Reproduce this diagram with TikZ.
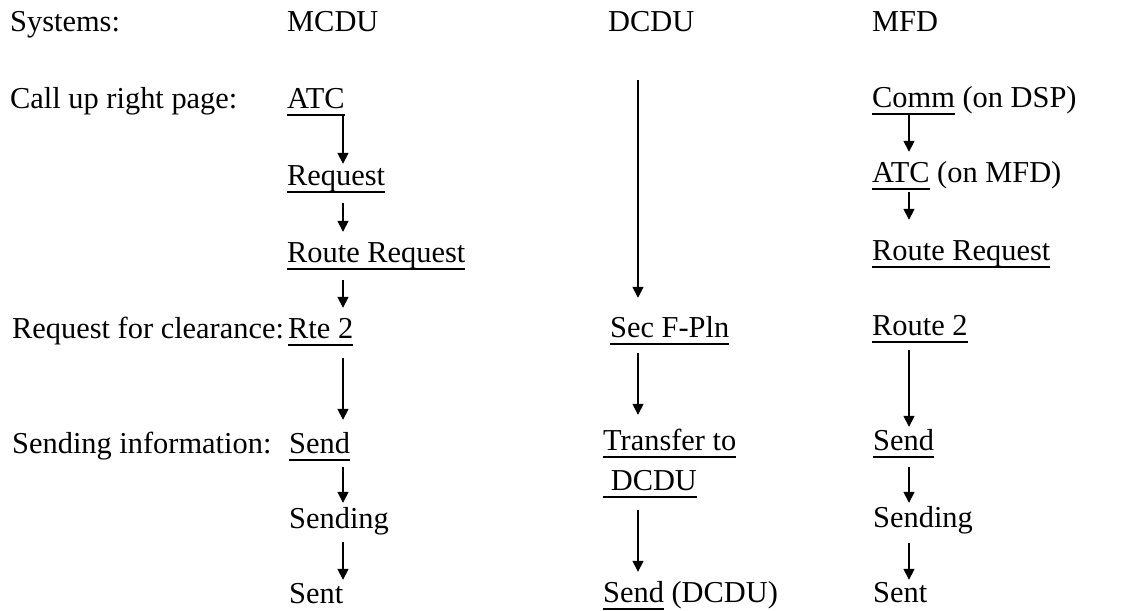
\documentclass[tikz,border=0pt]{standalone}
\usepackage{fontspec}
\setmainfont{Liberation Serif}
\usetikzlibrary{arrows.meta}
\newcommand{\myul}[1]{\setbox0=\hbox{#1}\rlap{\rule[-7.75pt]{\wd0}{1.5pt}}\box0\relax}
\tikzset{
  lbl/.style={anchor=base west, inner sep=0pt, font=\fontsize{30.4}{36}\selectfont, text height=21pt, text depth=7pt},
  arr/.style={-{Triangle[length=11pt,width=11pt]}, line width=1.5pt}
}
\begin{document}
\begin{tikzpicture}[x=1pt,y=-1pt]
\useasboundingbox[fill=white] (0,0) rectangle (1131,610);
% headers and row labels
\node[lbl] (hsys) at (10,32) {Systems:};
\node[lbl] (hmcdu) at (287,32) {MCDU};
\node[lbl] (hdcdu) at (608,32) {DCDU};
\node[lbl] (hmfd) at (872,32) {MFD};
\node[lbl] (lcall) at (10,108) {Call up right page:};
\node[lbl] (lreq) at (12,338) {Request for clearance:};
\node[lbl] (lsend) at (12,453) {Sending information:};
% MCDU
\node[lbl] (atc) at (287,108) {\myul{ATC}};
\node[lbl] (req) at (287,185) {\myul{Request}};
\node[lbl] (rreq) at (287,262) {\myul{Route Request}};
\node[lbl] (rte) at (288,338) {\myul{Rte 2}};
\node[lbl] (send) at (289,453) {\myul{Send}};
\node[lbl] (sending) at (289,528) {Sending};
\node[lbl] (sent) at (289,603) {Sent};
% DCDU
\coordinate (dtop) at (638,80);
\node[lbl] (secf) at (610,337) {\myul{Sec F-Pln}};
\node[lbl] (transfer) at (603,450) {\myul{Transfer to}};
\node[lbl] (transferb) at (603,490) {\myul{\ DCDU}};
\node[lbl] (senddcdu) at (603,602) {\myul{Send} (DCDU)};
% MFD
\node[lbl] (comm) at (872,107) {\myul{Comm} (on DSP)};
\node[lbl] (atcm) at (872,182) {\myul{ATC} (on MFD)};
\node[lbl] (rreqm) at (872,260) {\myul{Route Request}};
\node[lbl] (route2) at (872,335) {\myul{Route 2}};
\node[lbl] (sendm) at (873,450) {\myul{Send}};
\node[lbl] (sendingm) at (873,527) {Sending};
\node[lbl] (sentm) at (873,602) {Sent};
% arrow columns
\coordinate (xa) at (343,0);
\coordinate (xb) at (638,0);
\coordinate (xc) at (909,0);
% MCDU arrows
\draw[arr] (atc.south -| xa) -- (req.north -| xa);
\draw[arr, shorten <=11pt, shorten >=9pt] (req.south -| xa) -- (rreq.north -| xa);
\draw[arr, shorten <=11pt, shorten >=9pt] (rreq.south -| xa) -- (rte.north -| xa);
\draw[arr, shorten <=13pt, shorten >=12pt] (rte.south -| xa) -- (send.north -| xa);
\draw[arr, shorten <=7pt, shorten >=4pt] (send.south -| xa) -- (sending.north -| xa);
\draw[arr, shorten <=7pt, shorten >=2pt] (sending.south -| xa) -- (sent.north -| xa);
% DCDU arrows
\draw[arr, shorten >=18pt] (dtop) -- (secf.north -| xb);
\draw[arr, shorten <=9pt, shorten >=14pt] (secf.south -| xb) -- (transfer.north -| xb);
\draw[arr, shorten <=13pt, shorten >=9pt] (transferb.south -| xb) -- (senddcdu.north -| xb);
% MFD arrows
\draw[arr, shorten >=9pt] (comm.south -| xc) -- (atcm.north -| xc);
\draw[arr, shorten <=3pt, shorten >=19pt] (atcm.south -| xc) -- (rreqm.north -| xc);
\draw[arr, shorten <=8pt, shorten >=2pt] (route2.south -| xc) -- (sendm.north -| xc);
\draw[arr, shorten <=10pt, shorten >=3pt] (sendm.south -| xc) -- (sendingm.north -| xc);
\draw[arr, shorten <=9pt, shorten >=1pt] (sendingm.south -| xc) -- (sentm.north -| xc);
\end{tikzpicture}
\end{document}
